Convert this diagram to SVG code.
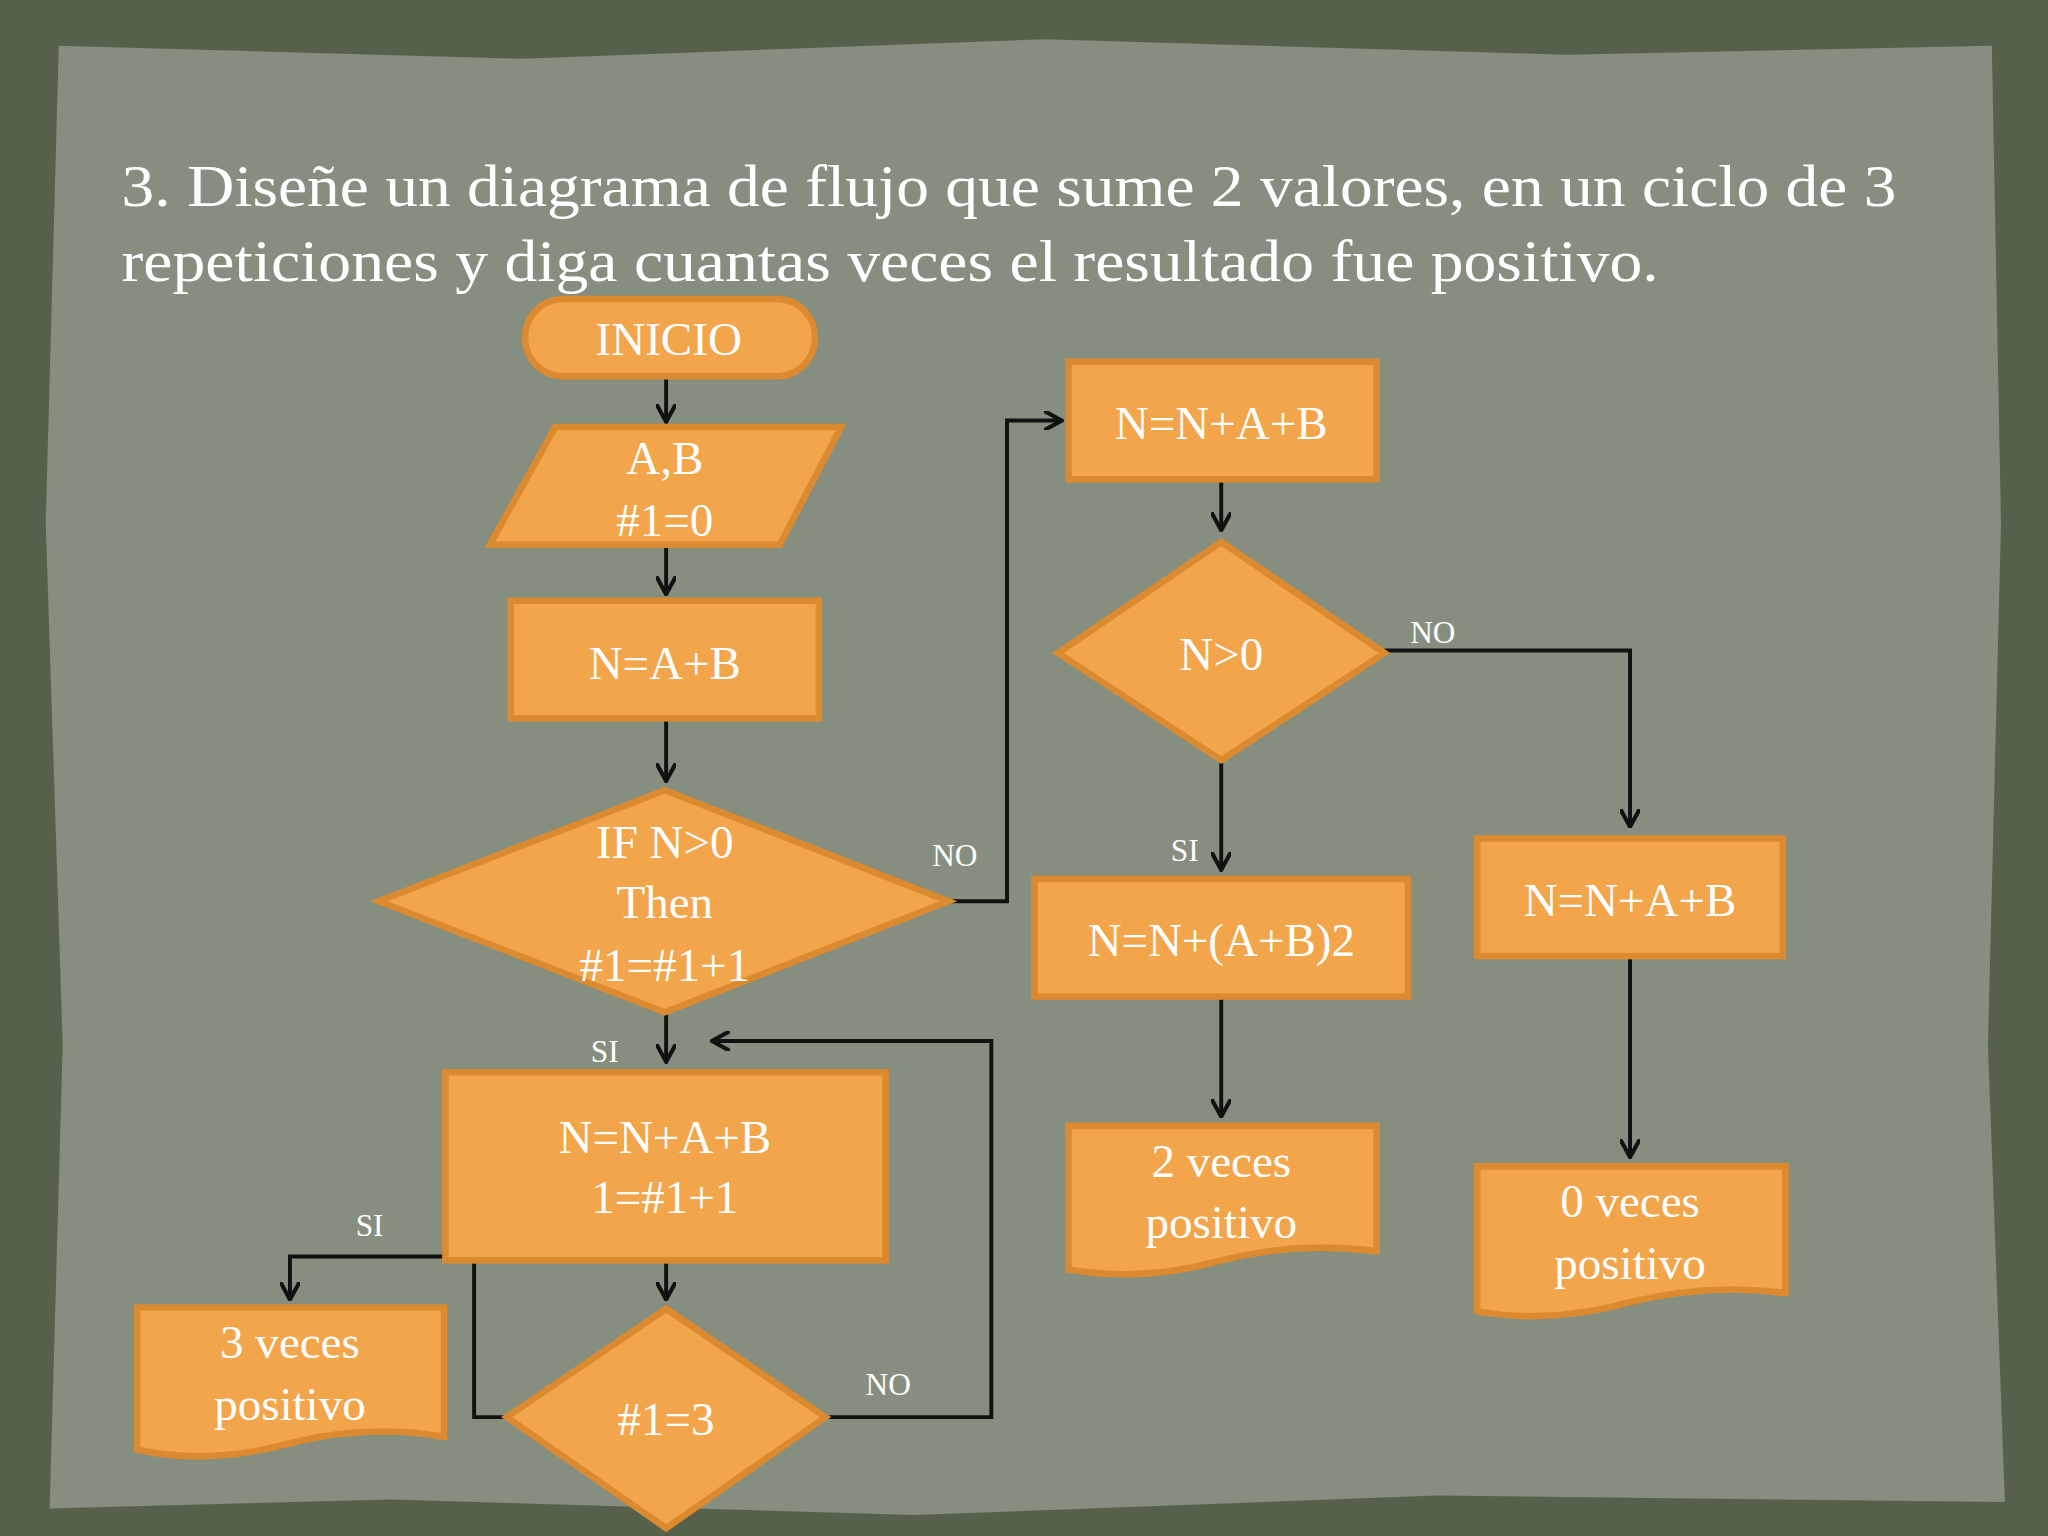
<svg xmlns="http://www.w3.org/2000/svg" width="2048" height="1536" viewBox="0 0 2048 1536">
<defs>
<style>
.b{fill:#f2a54b;stroke:#dc8a30;stroke-width:5}
.t{font-family:"Liberation Serif",serif;font-size:36px;fill:#fff;text-anchor:middle}
.l{font-family:"Liberation Serif",serif;font-size:24px;fill:#fff;text-anchor:middle}
.h{font-family:"Liberation Serif",serif;font-size:45px;fill:#fff}
.c{fill:none;stroke:#111;stroke-width:3;marker-end:url(#a)}
</style>
<marker id="a" viewBox="0 0 12 12" refX="11" refY="6" markerWidth="5" markerHeight="5" orient="auto"><path d="M0,0 L11,6 L0,12" fill="none" stroke="#111" stroke-width="2.5"/></marker>
</defs>
<g transform="scale(1.30612)">
<rect width="1568" height="1176" fill="#56614b"/>
<path d="M45,35 L400,45 L800,30 L1200,42 L1525,35 L1532,400 L1522,800 L1535,1150 L1100,1145 L700,1160 L300,1148 L38,1155 L48,800 L35,400 Z" fill="#858e7f"/>
<text class="h" x="93" y="158" textLength="1359" lengthAdjust="spacingAndGlyphs">3. Diseñe un diagrama de flujo que sume 2 valores, en un ciclo de 3</text>
<text class="h" x="93" y="215" textLength="1177" lengthAdjust="spacingAndGlyphs">repeticiones y diga cuantas veces el resultado fue positivo.</text>
<g id="connectors">
<path class="c" d="M510,290 V323"/>
<path class="c" d="M510,418 V455"/>
<path class="c" d="M510,550 V598"/>
<path class="c" d="M726,690 H771 V322 H813"/>
<path class="c" d="M510,775 V813"/>
<path class="c" d="M632,1085 H759 V797 H545"/>
<path class="c" d="M510,965 V995"/>
<path class="c" d="M388,1085 H363 V962 H222 V995"/>
<path class="c" d="M935,367 V406"/>
<path class="c" d="M1060,498 H1248 V633"/>
<path class="c" d="M935,582 V666"/>
<path class="c" d="M935,763 V855"/>
<path class="c" d="M1248,732 V886"/>
<text class="l" x="731" y="663">NO</text>
<text class="l" x="463" y="813">SI</text>
<text class="l" x="680" y="1068">NO</text>
<text class="l" x="283" y="946">SI</text>
<text class="l" x="1097" y="492">NO</text>
<text class="l" x="907" y="659">SI</text>
</g>
<g id="inicio"><rect class="b" x="402" y="229" width="222" height="59" rx="29"/><text class="t" x="512" y="272">INICIO</text></g>
<g id="input"><polygon class="b" points="425,327 644,327 597,417 375,417"/><text class="t" x="509" y="363">A,B</text><text class="t" x="509" y="410">#1=0</text></g>
<g id="nab"><rect class="b" x="391" y="460" width="236" height="90"/><text class="t" x="509" y="520">N=A+B</text></g>
<g id="if"><polygon class="b" points="290,690 509,605 726,690 509,775"/><text class="t" x="509" y="657">IF N&gt;0</text><text class="t" x="509" y="703">Then</text><text class="t" x="509" y="751">#1=#1+1</text></g>
<g id="loop"><rect class="b" x="341" y="821" width="337" height="144"/><text class="t" x="509" y="883">N=N+A+B</text><text class="t" x="509" y="929">1=#1+1</text></g>
<g id="cond3"><polygon class="b" points="388,1085 510,1002 632,1085 510,1170"/><text class="t" x="510" y="1099">#1=3</text></g>
<g id="v3"><path class="b" d="M105,1001 H340 V1100 Q280,1090 222,1105 Q160,1122 105,1110 Z"/><text class="t" x="222" y="1040">3 veces</text><text class="t" x="222" y="1087">positivo</text></g>
<g id="r1"><rect class="b" x="818" y="277" width="236" height="90"/><text class="t" x="935" y="336">N=N+A+B</text></g>
<g id="n0"><polygon class="b" points="810,500 935,415 1060,500 935,582"/><text class="t" x="935" y="513">N&gt;0</text></g>
<g id="r2"><rect class="b" x="792" y="673" width="286" height="90"/><text class="t" x="935" y="732">N=N+(A+B)2</text></g>
<g id="v2"><path class="b" d="M818,862 H1054 V958 Q994,950 935,965 Q875,982 818,972 Z"/><text class="t" x="935" y="901">2 veces</text><text class="t" x="935" y="948">positivo</text></g>
<g id="r3"><rect class="b" x="1131" y="642" width="234" height="90"/><text class="t" x="1248" y="701">N=N+A+B</text></g>
<g id="v0"><path class="b" d="M1131,893 H1367 V990 Q1308,982 1248,997 Q1188,1014 1131,1004 Z"/><text class="t" x="1248" y="932">0 veces</text><text class="t" x="1248" y="979">positivo</text></g>
</g>
</svg>
